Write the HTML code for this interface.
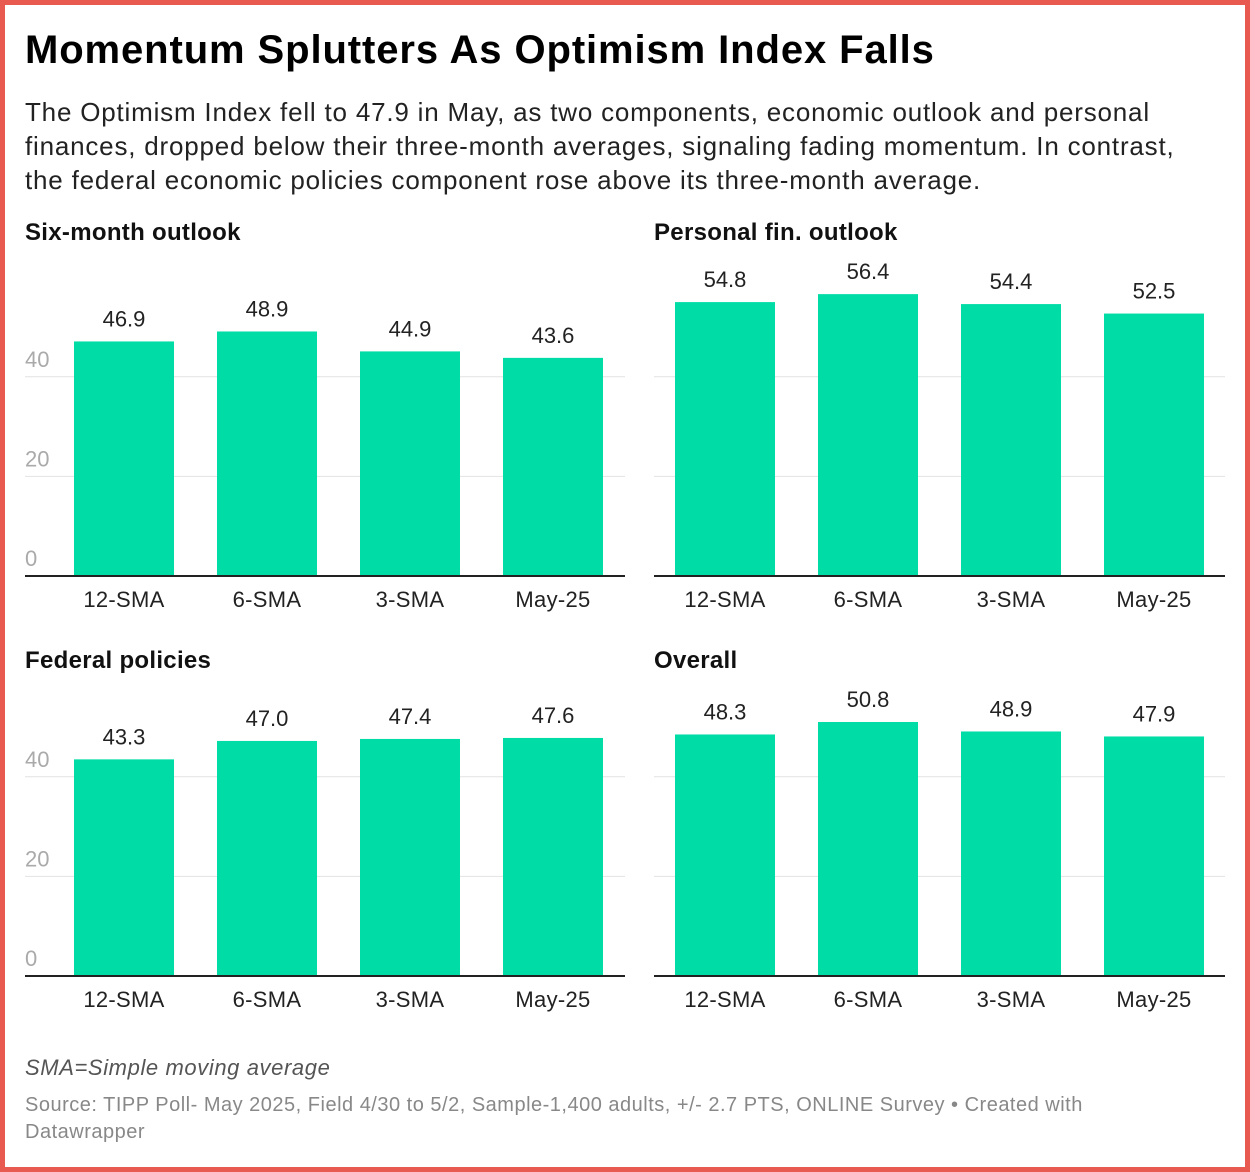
<!DOCTYPE html>
<html><head><meta charset="utf-8"><style>
html,body{margin:0;padding:0;background:#fff}
body{width:1250px;height:1172px;position:relative;overflow:hidden;font-family:"Liberation Sans",sans-serif}
.frame{position:absolute;left:0;top:0;width:1240px;height:1162px;border:5px solid #e85a4f}
h1{position:absolute;left:25px;top:28px;margin:0;font-size:40px;font-weight:bold;color:#000;letter-spacing:0.9px}
.sub{position:absolute;left:25px;top:95px;width:1190px;font-size:26px;letter-spacing:0.8px;line-height:34px;color:#222}
.note{position:absolute;left:25px;top:1055px;font-size:22px;letter-spacing:0.6px;font-style:italic;color:#555}
.src{position:absolute;left:25px;top:1092px;width:1100px;font-size:20px;letter-spacing:0.5px;line-height:27px;color:#888}
svg{position:absolute;left:0;top:0}
</style></head><body>
<div class="frame"></div>
<h1>Momentum Splutters As Optimism Index Falls</h1>
<div class="sub">The Optimism Index fell to 47.9 in May, as two components, economic outlook and personal finances, dropped below their three-month averages, signaling fading momentum. In contrast, the federal economic policies component rose above its three-month average.</div>
<svg id="c" width="1250" height="1172"></svg>
<div class="note">SMA=Simple moving average</div>
<div class="src">Source: TIPP Poll- May 2025, Field 4/30 to 5/2, Sample-1,400 adults, +/- 2.7 PTS, ONLINE Survey • Created with Datawrapper</div>
<script>
const categories=["12-SMA","6-SMA","3-SMA","May-25"];
const panelTitles=["Six-month outlook","Personal fin. outlook","Federal policies","Overall"];
const sixMonth=[46.9,48.9,44.9,43.6];
const personal=[54.8,56.4,54.4,52.5];
const federal=[43.3,47.0,47.4,47.6];
const overall=[48.3,50.8,48.9,47.9];
const yTicks=[0,20,40];
const series=[sixMonth,personal,federal,overall];
const NS="http://www.w3.org/2000/svg";
const svg=document.getElementById('c');
function mk(t,a,p){const e=document.createElementNS(NS,t);for(const k in a)e.setAttribute(k,a[k]);(p||svg).appendChild(e);return e;}
const panels=[{x0:25,x1:625,bx:74,base:575,ty:232,labels:true},{x0:654,x1:1225,bx:675,base:575,ty:232,labels:false},
{x0:25,x1:625,bx:74,base:975,ty:660,labels:true},{x0:654,x1:1225,bx:675,base:975,ty:660,labels:false}];
const unit=4.98,step=143,bw=100;
panels.forEach((p,i)=>{
  const g=mk('g',{});
  
  
  const y=v=>p.base-v*unit;
  const t=mk('text',{x:p.x0,y:p.ty+8,'font-size':24,'font-weight':'bold','letter-spacing':0.3,fill:'#111'},g);t.textContent=panelTitles[i];
  
  
  yTicks.forEach(v=>{
    if(v>0){const l=mk('line',{x1:p.x0,x2:p.x1,y1:y(v)+1,y2:y(v)+1,stroke:'#e2e2e2','stroke-width':1},g);
      
      }
    if(p.labels){const tt=mk('text',{x:p.x0,y:y(v)-9,'font-size':22,fill:'#aaa'},g);tt.textContent=v;
      
      }
  });
  series[i].forEach((v,j)=>{
    const x=p.bx+j*step;
    const r=mk('rect',{x:x,y:y(v),width:bw,height:v*unit,fill:'#00dca6'},g);
    
    
    const vl=mk('text',{x:x+bw/2,y:y(v)-15,'font-size':22,'text-anchor':'middle',fill:'#222'},g);vl.textContent=v.toFixed(1);
    
    
    const cl=mk('text',{x:x+bw/2,y:p.base+32,'font-size':22,'letter-spacing':0.3,'text-anchor':'middle',fill:'#222'},g);cl.textContent=categories[j];
    
    
  });
  const b=mk('line',{x1:p.x0,x2:p.x1,y1:p.base+1,y2:p.base+1,stroke:'#222','stroke-width':2},g);
  
  
});
</script>
</body></html>
